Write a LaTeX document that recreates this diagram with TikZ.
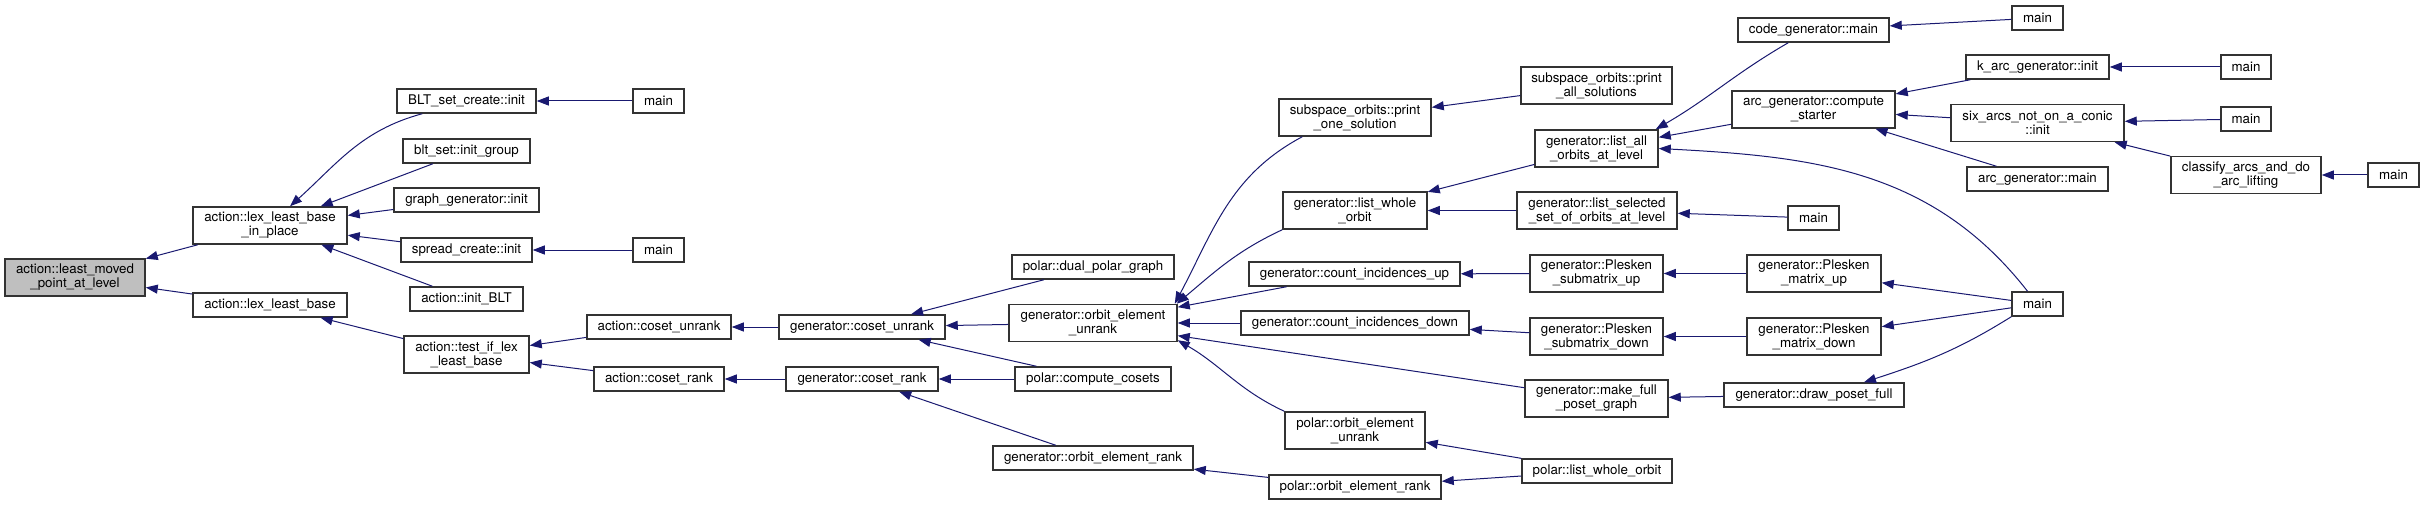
\documentclass[tikz,border=0pt]{standalone}
\usepackage{fontspec}
\setmainfont{TeX Gyre Heros}
\usepackage{tikz}
\usetikzlibrary{arrows.meta}
\definecolor{cEdge}{HTML}{191970}
\definecolor{cLine}{HTML}{333333}
\definecolor{cRoot}{HTML}{BFBFBF}
\tikzset{
  >={Triangle[length=12pt,width=9pt]},
  fn/.style={draw=cLine,line width=1.5pt,fill=white,inner sep=0pt,align=center,
             minimum height=24pt,font=\fontsize{13.33}{14}\selectfont},
  fn2/.style={fn,minimum height=37pt},
  fnroot/.style={fn2,fill=cRoot},
  call/.style={->,line width=1pt,cEdge},
}
\begin{document}
\begin{tikzpicture}[x=1pt,y=1pt]
  \useasboundingbox (0,0) rectangle (2425,-505);
  \node[fnroot,minimum width=140pt] (root) at (75,-277.5) {action::least\_moved\\\_point\_at\_level};
  \node[fn2,minimum width=154pt] (lexip) at (270,-225.5) {action::lex\_least\_base\\\_in\_place};
  \node[fn,minimum width=154pt] (lexlb) at (270,-305) {action::lex\_least\_base};
  \node[fn,minimum width=139pt] (bltcreate) at (466.5,-101) {BLT\_set\_create::init};
  \node[fn,minimum width=127pt] (bltgroup) at (466.5,-151) {blt\_set::init\_group};
  \node[fn,minimum width=145pt] (graphgen) at (466.5,-200) {graph\_generator::init};
  \node[fn,minimum width=131pt] (spread) at (466.5,-250) {spread\_create::init};
  \node[fn,minimum width=113pt] (initblt) at (466.5,-299) {action::init\_BLT};
  \node[fn2,minimum width=125pt] (testlex) at (466.5,-354.5) {action::test\_if\_lex\\\_least\_base};
  \node[fn,minimum width=51pt] (mainA) at (658.5,-101) {main};
  \node[fn,minimum width=51pt] (mainB) at (658.5,-250) {main};
  \node[fn,minimum width=144pt] (acosetun) at (659,-327) {action::coset\_unrank};
  \node[fn,minimum width=130pt] (acosetrk) at (659,-379) {action::coset\_rank};
  \node[fn,minimum width=166pt] (gcosetun) at (862,-327) {generator::coset\_unrank};
  \node[fn,minimum width=152pt] (gcosetrk) at (862,-379) {generator::coset\_rank};
  \node[fn,minimum width=162pt] (dualpolar) at (1093,-267) {polar::dual\_polar\_graph};
  \node[fn2,minimum width=168pt] (gorbun) at (1093,-323) {generator::orbit\_element\\\_unrank};
  \node[fn,minimum width=156pt] (compcos) at (1093,-379) {polar::compute\_cosets};
  \node[fn,minimum width=200pt] (gorbrk) at (1093,-458) {generator::orbit\_element\_rank};
  \node[fn2,minimum width=152pt] (printone) at (1355,-117.5) {subspace\_orbits::print\\\_one\_solution};
  \node[fn2,minimum width=144pt] (listwhole) at (1355,-210.5) {generator::list\_whole\\\_orbit};
  \node[fn,minimum width=211pt] (cntup) at (1354.5,-274) {generator::count\_incidences\_up};
  \node[fn,minimum width=228pt] (cntdown) at (1355,-323) {generator::count\_incidences\_down};
  \node[fn2,minimum width=140pt] (polorbun) at (1355,-430.5) {polar::orbit\_element\\\_unrank};
  \node[fn,minimum width=172pt] (polorbrk) at (1355,-487) {polar::orbit\_element\_rank};
  \node[fn2,minimum width=151pt] (printall) at (1596.5,-85.5) {subspace\_orbits::print\\\_all\_solutions};
  \node[fn2,minimum width=123pt] (listall) at (1596.5,-148.5) {generator::list\_all\\\_orbits\_at\_level};
  \node[fn2,minimum width=160pt] (listsel) at (1597,-210.5) {generator::list\_selected\\\_set\_of\_orbits\_at\_level};
  \node[fn2,minimum width=133pt] (psubup) at (1596.5,-273.5) {generator::Plesken\\\_submatrix\_up};
  \node[fn2,minimum width=133pt] (psubdown) at (1596.5,-336.5) {generator::Plesken\\\_submatrix\_down};
  \node[fn2,minimum width=143pt] (makefull) at (1596.5,-398.5) {generator::make\_full\\\_poset\_graph};
  \node[fn,minimum width=150pt] (pollist) at (1597,-471) {polar::list\_whole\_orbit};
  \node[fn,minimum width=151pt] (codegen) at (1813.5,-30) {code\_generator::main};
  \node[fn2,minimum width=163pt] (compstart) at (1813.5,-109.5) {arc\_generator::compute\\\_starter};
  \node[fn,minimum width=51pt] (mainC) at (1813.5,-218) {main};
  \node[fn2,minimum width=134pt] (pmatup) at (1814,-273.5) {generator::Plesken\\\_matrix\_up};
  \node[fn2,minimum width=134pt] (pmatdown) at (1814,-336.5) {generator::Plesken\\\_matrix\_down};
  \node[fn,minimum width=180pt] (drawposet) at (1814,-395) {generator::draw\_poset\_full};
  \node[fn,minimum width=51pt] (mainD) at (2037.5,-18) {main};
  \node[fn,minimum width=143pt] (kinit) at (2037.5,-67) {k\_arc\_generator::init};
  \node[fn2,minimum width=173pt] (sixarcs) at (2037.5,-123) {six\_arcs\_not\_on\_a\_conic\\::init};
  \node[fn,minimum width=141pt] (arcmain) at (2037.5,-179) {arc\_generator::main};
  \node[fn,minimum width=51pt] (mainE) at (2037.5,-304) {main};
  \node[fn,minimum width=50pt] (mainF) at (2246,-67) {main};
  \node[fn,minimum width=50pt] (mainG) at (2246,-119) {main};
  \node[fn2,minimum width=150pt] (classify) at (2246,-175) {classify\_arcs\_and\_do\\\_arc\_lifting};
  \node[fn,minimum width=51pt] (mainH) at (2393.5,-175) {main};

  \draw[call] (lexip) -- (root);
  \draw[call] (lexlb) -- (root);
  \draw[call] ([xshift=26pt]bltcreate.south west) to[out=195,in=42] ([xshift=20pt]lexip.north);
  \draw[call] (bltgroup) -- (lexip);
  \draw[call] (graphgen) -- (lexip);
  \draw[call] (spread) -- (lexip);
  \draw[call] (initblt) -- (lexip);
  \draw[call] (testlex) -- (lexlb);
  \draw[call] (mainA) -- (bltcreate);
  \draw[call] (mainB) -- (spread);
  \draw[call] (acosetun) -- (testlex);
  \draw[call] (acosetrk) -- (testlex);
  \draw[call] (gcosetun) -- (acosetun);
  \draw[call] (gcosetrk) -- (acosetrk);
  \draw[call] (dualpolar) -- (gcosetun);
  \draw[call] (gorbun) -- (gcosetun);
  \draw[call] (compcos) -- (gcosetun);
  \draw[call] (compcos) -- (gcosetrk);
  \draw[call] (gorbrk) -- (gcosetrk);
  \draw[call] ([xshift=24pt]printone.south west) to[out=208,in=62] ([xshift=-3pt]gorbun.north east);
  \draw[call] (listwhole.south west) to[out=205,in=40] ([xshift=-1pt]gorbun.north east);
  \draw[call] (cntup) -- (gorbun);
  \draw[call] (cntdown) -- (gorbun);
  \draw[call] (makefull) -- (gorbun);
  \draw[call] (polorbun.north west) to[out=155,in=-30] ([yshift=2pt]gorbun.south east);
  \draw[call] (polorbrk) -- (gorbrk);
  \draw[call] (printall) -- (printone);
  \draw[call] (listall) -- (listwhole);
  \draw[call] (listsel) -- (listwhole);
  \draw[call] (psubup) -- (cntup);
  \draw[call] (psubdown) -- (cntdown);
  \draw[call] (drawposet) -- (makefull);
  \draw[call] (pollist) -- (polorbun);
  \draw[call] (pollist) -- (polorbrk);
  \draw[call] ([xshift=51pt]codegen.south west) to[out=210,in=30] ([xshift=-3pt]listall.north east);
  \draw[call] (compstart) -- (listall);
  \draw[call] ([xshift=-10pt]mainE.north) to[out=128,in=-3] (listall.east);
  \draw[call] (mainC) -- (listsel);
  \draw[call] (pmatup) -- (psubup);
  \draw[call] (pmatdown) -- (psubdown);
  \draw[call] (mainE) -- (pmatup);
  \draw[call] (mainE) -- (pmatdown);
  \draw[call] (mainE.south west) to[out=212,in=18] ([xshift=50pt]drawposet.north);
  \draw[call] (mainD) -- (codegen);
  \draw[call] (kinit) -- (compstart);
  \draw[call] (sixarcs) -- (compstart);
  \draw[call] (arcmain) -- (compstart);
  \draw[call] (mainF) -- (kinit);
  \draw[call] (mainG) -- (sixarcs);
  \draw[call] (classify) -- (sixarcs);
  \draw[call] (mainH) -- (classify);
\end{tikzpicture}
\end{document}
